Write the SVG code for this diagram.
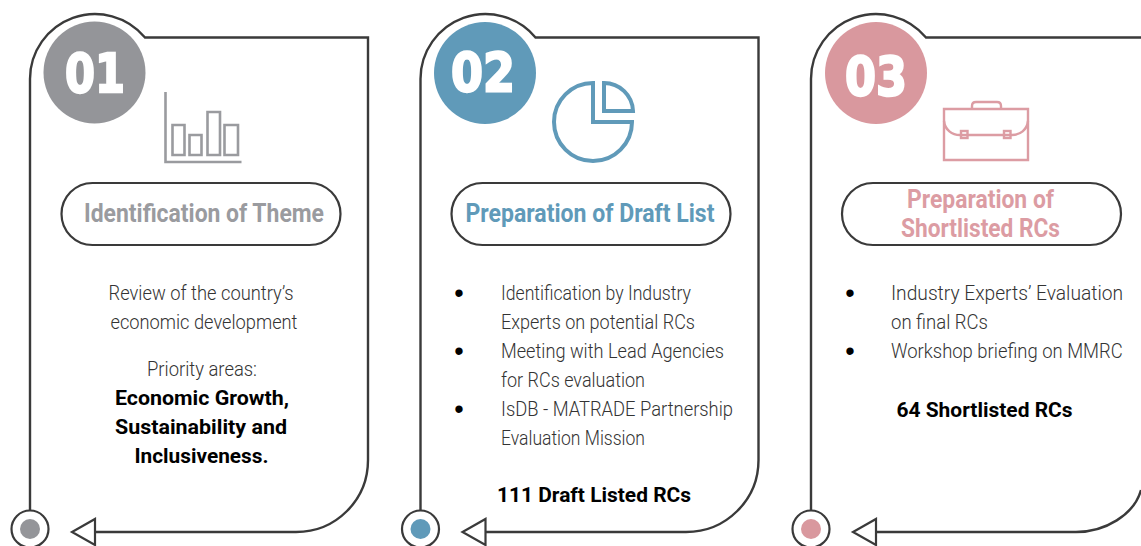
<svg xmlns="http://www.w3.org/2000/svg" width="1141" height="546" viewBox="0 0 1141 546">
<style>
.frame{fill:none;stroke:#3a3a3a;stroke-width:2.4}
.pill{fill:#fff;stroke:#3a3a3a;stroke-width:2.2}
.arrow{fill:#fff;stroke:#3a3a3a;stroke-width:2.2}
.ring{fill:#fff;stroke:#3a3a3a;stroke-width:2.2}
text{font-family:"Roboto","Liberation Sans",sans-serif}
.num{font-family:"DejaVu Sans","Liberation Sans",sans-serif;font-weight:700;font-size:54px;fill:#fff;stroke:#fff;stroke-width:2.4;text-anchor:middle}
.title{font-weight:700;font-size:25px;text-anchor:middle}
.body{font-weight:300;font-size:21px;fill:#333;text-anchor:middle}
.left{font-weight:300;font-size:21px;fill:#333}
.bold{font-weight:700;font-size:21px;fill:#000;text-anchor:middle}
.bul{font-family:"Liberation Sans",sans-serif;font-size:27px;fill:#000;text-anchor:middle}
.gi{fill:none;stroke:#9a9b9f;stroke-width:2.6}
.bi{fill:none;stroke:#609ab9;stroke-width:4}
.pi{fill:none;stroke:#dc9ca3;stroke-width:2.4}
</style>
<g id="connectors">
<path class="frame" d="M30 511V79A65 65 0 0 1 145 37.500H368V460C368 500 336 532 296 532H95"/>
<path class="frame" d="M420.500 511V79A65 65 0 0 1 535.500 37.500H758.500V460C758.500 500 726 532 686 532H486"/>
<path class="frame" d="M811 511V79A65 65 0 0 1 926 37.500H1141M1141 490C1134 515 1105 532 1076 532H876"/>
</g>
<g id="node-1">
<circle cx="94.500" cy="72.500" r="51" fill="#949599"/>
<text class="num" x="95" y="92" textLength="60" lengthAdjust="spacingAndGlyphs">01</text>
<path class="gi" d="M165.500 92V162H241.500"/>
<path class="gi" d="M172.500 125H184.500V155H172.500ZM189.500 135H201.500V155H189.500ZM207.500 112H220V155H207.500ZM224.500 125H238V155H224.500Z"/>
<rect class="pill" x="61.500" y="183" width="279" height="62" rx="31"/>
<text class="title" x="204" y="222" fill="#9a9b9f" textLength="240" lengthAdjust="spacingAndGlyphs">Identification of Theme</text>
<text class="body" x="201" y="300" textLength="185" lengthAdjust="spacingAndGlyphs">Review of the country’s</text>
<text class="body" x="204" y="329" textLength="187" lengthAdjust="spacingAndGlyphs">economic development</text>
<text class="body" x="202" y="376" textLength="110" lengthAdjust="spacingAndGlyphs">Priority areas:</text>
<text class="bold" x="202" y="405" textLength="174" lengthAdjust="spacingAndGlyphs">Economic Growth,</text>
<text class="bold" x="201" y="434" textLength="172" lengthAdjust="spacingAndGlyphs">Sustainability and</text>
<text class="bold" x="201.500" y="463" textLength="134" lengthAdjust="spacingAndGlyphs">Inclusiveness.</text>
<circle class="ring" cx="30" cy="529" r="18.500"/>
<circle cx="30" cy="529" r="10" fill="#949599"/>
<path class="arrow" d="M95 519V545L72 532Z"/>
</g>
<g id="node-2">
<circle cx="485" cy="73" r="51" fill="#609ab9"/>
<text class="num" x="483" y="91" textLength="64" lengthAdjust="spacingAndGlyphs">02</text>
<path class="bi" d="M593 83A39 39 0 1 0 632 122H593Z"/>
<path class="bi" d="M604 83A29 29 0 0 1 633 111H604Z"/>
<rect class="pill" x="451.500" y="183" width="279" height="62" rx="31"/>
<text class="title" x="590" y="222" fill="#609ab9" textLength="249" lengthAdjust="spacingAndGlyphs">Preparation of Draft List</text>
<text class="bul" x="459" y="302">•</text>
<text class="left" x="501" y="300" textLength="190" lengthAdjust="spacingAndGlyphs">Identification by Industry</text>
<text class="left" x="501" y="329" textLength="194" lengthAdjust="spacingAndGlyphs">Experts on potential RCs</text>
<text class="bul" x="459" y="360">•</text>
<text class="left" x="501" y="358" textLength="223" lengthAdjust="spacingAndGlyphs">Meeting with Lead Agencies</text>
<text class="left" x="501" y="387" textLength="144" lengthAdjust="spacingAndGlyphs">for RCs evaluation</text>
<text class="bul" x="459" y="418">•</text>
<text class="left" x="501" y="416" textLength="232" lengthAdjust="spacingAndGlyphs">IsDB - MATRADE Partnership</text>
<text class="left" x="501" y="445" textLength="144" lengthAdjust="spacingAndGlyphs">Evaluation Mission</text>
<text class="bold" x="594" y="502" textLength="194" lengthAdjust="spacingAndGlyphs">111 Draft Listed RCs</text>
<circle class="ring" cx="420.500" cy="529" r="18.500"/>
<circle cx="420.500" cy="529" r="10" fill="#609ab9"/>
<path class="arrow" d="M485.500 519V545L462.500 532Z"/>
</g>
<g id="node-3">
<circle cx="876" cy="73" r="51" fill="#d9989e"/>
<text class="num" x="876" y="95" textLength="62" lengthAdjust="spacingAndGlyphs">03</text>
<path class="pi" d="M944 109H1028V160H944Z"/>
<path class="pi" d="M972 108.500V106C972 103 974 102 976 102H997C999 102 1001 103 1001 106V108.500"/>
<path class="pi" d="M944 121C945 130 952 135 960 135H1012C1020 135 1027 130 1028 121"/>
<rect class="pi" x="961" y="131" width="6.500" height="7"/>
<rect class="pi" x="1004" y="131" width="6.500" height="7"/>
<rect class="pill" x="842" y="183" width="279" height="62" rx="31"/>
<text class="title" x="980.500" y="208" fill="#dc9ca3" textLength="147" lengthAdjust="spacingAndGlyphs">Preparation of</text>
<text class="title" x="980.500" y="237" fill="#dc9ca3" textLength="159" lengthAdjust="spacingAndGlyphs">Shortlisted RCs</text>
<text class="bul" x="850" y="302">•</text>
<text class="left" transform="translate(891 300) scale(.915 1)" x="0" y="0">Industry Experts’ Evaluation</text>
<text class="left" x="891" y="329" textLength="97" lengthAdjust="spacingAndGlyphs">on final RCs</text>
<text class="bul" x="850" y="360">•</text>
<text class="left" transform="translate(891 358) scale(.878 1)" x="0" y="0">Workshop briefing on MMRC</text>
<text class="bold" x="984.500" y="417" textLength="176" lengthAdjust="spacingAndGlyphs">64 Shortlisted RCs</text>
<circle class="ring" cx="811" cy="529" r="18.500"/>
<circle cx="811" cy="529" r="10" fill="#d9989e"/>
<path class="arrow" d="M876 519V545L853 532Z"/>
</g>
</svg>
